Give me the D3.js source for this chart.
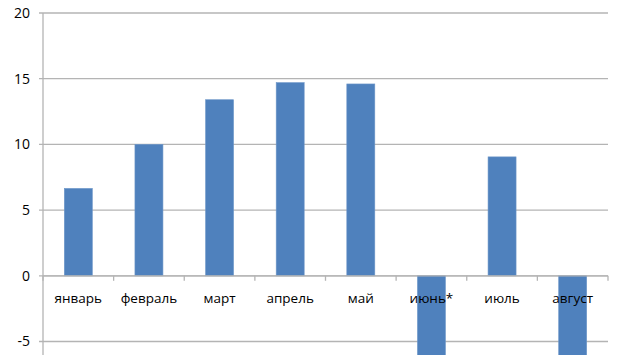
<!DOCTYPE html>
<html>
<head>
<meta charset="utf-8">
<script src="https://cdn.jsdelivr.net/npm/d3@7"></script>
<style>
body { margin: 0; background: #fff; }
svg { display: block; }
text { font-family: "Open Sans", "DejaVu Sans", sans-serif; fill: #000; }
</style>
</head>
<body>
<script>
// data
var months = ["январь", "февраль", "март", "апрель", "май", "июнь*", "июль", "август"];
var values = [6.65, 10.0, 13.4, 14.7, 14.6, -8.0, 9.05, -8.0];
var yTicks = [-5, 0, 5, 10, 15, 20];

var margin = {top: 13, right: 22, bottom: 0, left: 43},
    width = 630 - margin.left - margin.right,
    height = 355 - margin.top;

var svg = d3.select("body").append("svg")
    .attr("width", 630)
    .attr("height", 355)
    .append("g")
    .attr("transform", "translate(" + margin.left + "," + margin.top + ")");

var x = d3.scaleBand()
    .domain(months)
    .range([0, width])
    .paddingInner(0.6)
    .paddingOuter(0.3);

var xb = d3.scaleBand().domain(months).range([0, width]);

var y = d3.scaleLinear()
    .domain([-5, 20])
    .range([328.5, 0]);

// grid lines + y labels
var grid = svg.append("g");
grid.selectAll("line")
    .data(yTicks)
    .enter()
    .append("line")
    .attr("x1", -4)
    .attr("x2", width)
    .attr("y1", function (d) { return y(d); })
    .attr("y2", function (d) { return y(d); })
    .attr("stroke", "#b4b4b4")
    .attr("stroke-width", 1.3);

grid.selectAll("text")
    .data(yTicks)
    .enter()
    .append("text")
    .attr("x", -13)
    .attr("y", function (d) { return y(d); })
    .attr("dy", "0.35em")
    .attr("text-anchor", "end")
    .style("font-size", "14px")
    .text(function (d) { return d; });

// y axis line
svg.append("line")
    .attr("x1", 0).attr("x2", 0)
    .attr("y1", 0).attr("y2", height)
    .attr("stroke", "#b4b4b4")
    .attr("stroke-width", 1.3);

// bars
svg.selectAll(".bar")
    .data(values)
    .enter()
    .append("rect")
    .attr("class", "bar")
    .attr("x", function (d, i) { return xb(months[i]) + xb.bandwidth() / 2 - 14; })
    .attr("width", 28)
    .attr("y", function (d) { return y(Math.max(0, d)); })
    .attr("height", function (d) { return Math.abs(y(d) - y(0)); })
    .attr("fill", "#4f81bd")
    .attr("stroke", "#6d96c8")
    .attr("stroke-width", 0.6);

// category axis on zero line
svg.append("line")
    .attr("x1", 0).attr("x2", width)
    .attr("y1", y(0)).attr("y2", y(0))
    .attr("stroke", "#b4b4b4")
    .attr("stroke-width", 1.3);

svg.selectAll(".xtick")
    .data(months.concat(["end"]))
    .enter()
    .append("line")
    .attr("class", "xtick")
    .attr("x1", function (d, i) { return i * xb.bandwidth(); })
    .attr("x2", function (d, i) { return i * xb.bandwidth(); })
    .attr("y1", y(0))
    .attr("y2", y(0) + 5)
    .attr("stroke", "#b4b4b4")
    .attr("stroke-width", 1.3);

svg.selectAll(".xlabel")
    .data(months)
    .enter()
    .append("text")
    .attr("class", "xlabel")
    .attr("x", function (d) { return xb(d) + xb.bandwidth() / 2; })
    .attr("y", y(0) + 22)
    .attr("dy", "0.35em")
    .attr("text-anchor", "middle")
    .style("font-size", "13.5px")
    .text(function (d) { return d; });
</script>
</body>
</html>
